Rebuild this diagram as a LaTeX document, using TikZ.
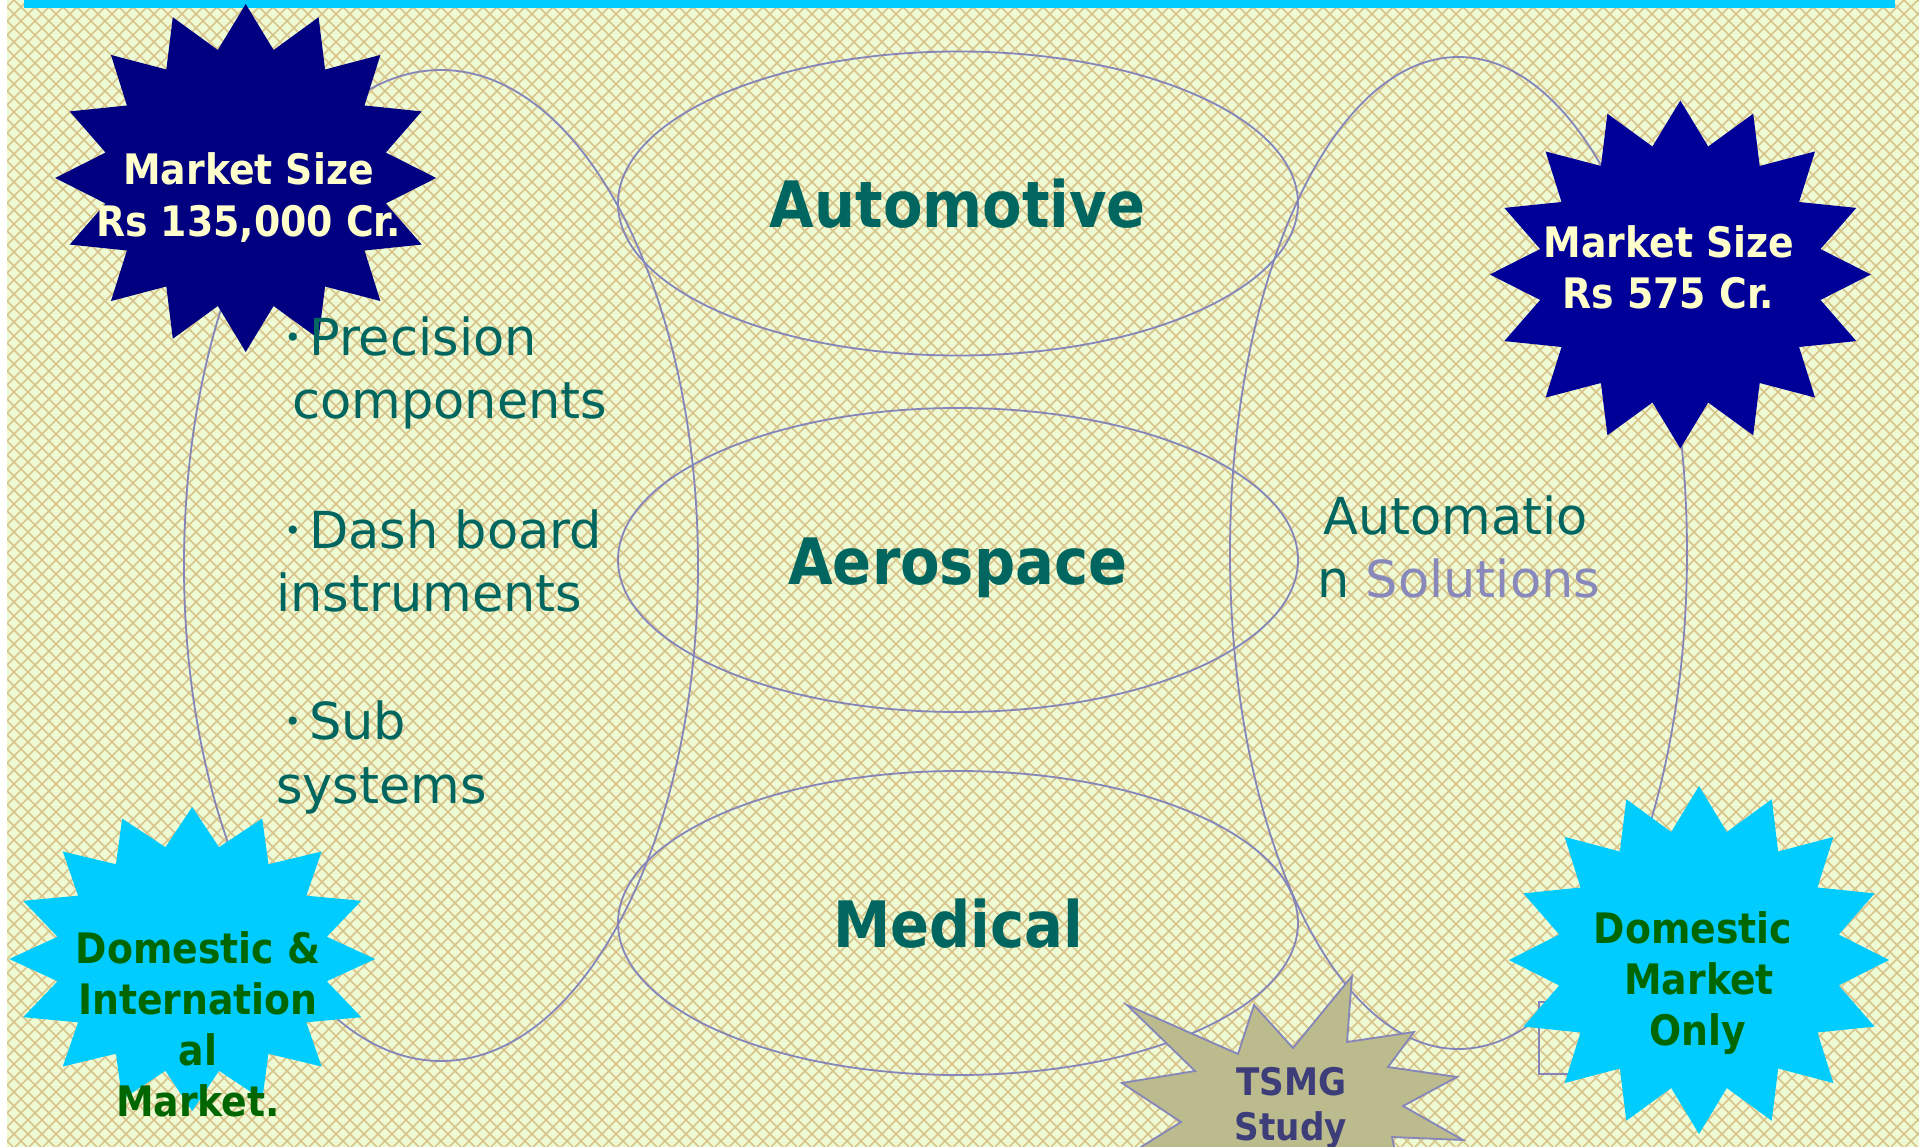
\documentclass[tikz,border=0pt]{standalone}
\usepackage{fontspec}
\setmainfont{DejaVu Sans}
\newfontfamily\condfam{DejaVu Sans Condensed}
\definecolor{bgfill}{HTML}{EDFAD3}
\definecolor{hatch}{HTML}{D8C48C}
\definecolor{topbar}{HTML}{00CCFF}
\definecolor{lav}{HTML}{8585BA}
\definecolor{navyA}{HTML}{000080}
\definecolor{navyB}{HTML}{000099}
\definecolor{cyanstar}{HTML}{00CCFF}
\definecolor{greentext}{HTML}{006600}
\definecolor{creamtext}{HTML}{FFFFCC}
\definecolor{tealtext}{HTML}{00665F}
\definecolor{solutext}{HTML}{8888BB}
\definecolor{olivestar}{HTML}{BBBB8E}
\definecolor{slatetext}{HTML}{3D3D7A}
\newcommand{\burstshape}[5]{%
  \path[#5] plot[samples=33, domain=0:32, variable=\k]
    ({#1+#3*(0.875+0.125*cos(\k*180))*sin(\k*11.25)},
     {#2-#4*(0.875+0.125*cos(\k*180))*cos(\k*11.25)}) -- cycle;}
\tikzset{
  loopline/.style={draw=lav, line width=1.8pt},
  hatchline/.style={draw=hatch, line width=1.5pt},
  startext/.style={font=\condfam\bfseries\fontsize{42}{51}\selectfont, inner sep=0pt, anchor=base},
  bigtext/.style={font=\condfam\bfseries\fontsize{64}{77}\selectfont, text=tealtext, inner sep=0pt, anchor=base},
  bodytext/.style={font=\fontsize{51}{63}\selectfont, text=tealtext, inner sep=0pt, anchor=base west},
  bulletmark/.style={font=\fontsize{28}{34}\selectfont, text=tealtext, inner sep=0pt, anchor=center},
}
\begin{document}
\begin{tikzpicture}[x=1pt, y=-1pt]
\useasboundingbox (0,0) rectangle (1919,1147);
% background
\fill[white] (0,0) rectangle (1919,1147);
\fill[bgfill] (7,0) rectangle (1919,1147);
\begin{scope}
  \clip (7,0) rectangle (1919,1147);
  \foreach \c in {-1162,-1148,...,1920} {
    \draw[hatchline] (\c,0) -- ++(1147,1147);
  }
  \foreach \c in {0,14,...,3080} {
    \draw[hatchline] (\c,0) -- ++(-1147,1147);
  }
\end{scope}
\fill[topbar] (24,0) rectangle (1895,8);
% loops and ellipses
\draw[loopline] (441,565.5) ellipse [x radius=257pt, y radius=495.5pt];
\draw[loopline] (1458.5,553) ellipse [x radius=228.5pt, y radius=496pt];
\draw[loopline] (958,203.5) ellipse [x radius=340pt, y radius=152pt];
\draw[loopline] (958,560) ellipse [x radius=340pt, y radius=152pt];
\draw[loopline] (958,923) ellipse [x radius=340pt, y radius=152pt];
\draw[loopline] (1539,1002) rectangle (1590,1074);
% stars
\burstshape{245.7}{178}{190.5}{174}{fill=navyA}
\burstshape{1680.3}{274.5}{190.5}{174}{fill=navyB}
\burstshape{192.2}{959}{183}{152}{fill=cyanstar}
\burstshape{1699}{960}{190}{174}{fill=cyanstar}
\filldraw[fill=olivestar, draw=lav, line width=1.8pt]
  (1127,1005) -- (1238,1054) -- (1254,1005) -- (1293,1048) -- (1352,976) --
  (1347,1042) -- (1414,1032) -- (1388,1067) -- (1457,1077) -- (1403,1106) --
  (1463,1140) -- (1392,1137) -- (1400,1175) -- (1135,1175) -- (1141,1147) --
  (1181,1122) -- (1122,1083) -- (1195,1071) -- cycle;
% big labels
\node[bigtext] (autolbl) at (958,228) {Automotive};
\node[bigtext] (aerolbl) at (958,584.5) {Aerospace};
\node[bigtext] (medlbl) at (958,947.5) {Medical};
% star texts
\node[startext, text=creamtext] (s1a) at (248.5,185) {Market Size};
\node[startext, text=creamtext] (s1b) at (248.5,237) {Rs 135,000 Cr.};
\node[startext, text=creamtext] (s2a) at (1669,257.3) {Market Size};
\node[startext, text=creamtext] (s2b) at (1668.3,308.3) {Rs 575 Cr.};
\node[startext, text=greentext] (s3a) at (198,963.3) {Domestic \&};
\node[startext, text=greentext] (s3b) at (198,1014) {Internation};
\node[startext, text=greentext] (s3c) at (198,1065.5) {al};
\node[startext, text=greentext] (s3d) at (198,1116.7) {Market.};
\node[startext, text=greentext] (s4a) at (1693,943.3) {Domestic};
\node[startext, text=greentext] (s4b) at (1699,994) {Market};
\node[startext, text=greentext] (s4c) at (1698,1045) {Only};
\node[startext, text=slatetext, font=\condfam\bfseries\fontsize{38}{46}\selectfont] (s5a) at (1291.5,1095) {TSMG};
\node[startext, text=slatetext, font=\condfam\bfseries\fontsize{38}{46}\selectfont] (s5b) at (1291,1140) {Study};
% body text
\node[bulletmark] (b1) at (293,340.7) {•};
\node[bodytext] (t1a) at (309,355.7) {Precision};
\node[bodytext] (t1b) at (292,418.6) {components};
\node[bulletmark] (b2) at (293,533) {•};
\node[bodytext] (t2a) at (309,548) {Dash board};
\node[bodytext] (t2b) at (276,611) {instruments};
\node[bulletmark] (b3) at (293,724) {•};
\node[bodytext] (t3a) at (309,739) {Sub};
\node[bodytext] (t3b) at (276,803) {systems};
\node[bodytext] (r1) at (1323,534) {Automatio};
\node[bodytext] (r2) at (1317,597.7) {n \textcolor{solutext}{Solutions}};
\end{tikzpicture}
\end{document}
